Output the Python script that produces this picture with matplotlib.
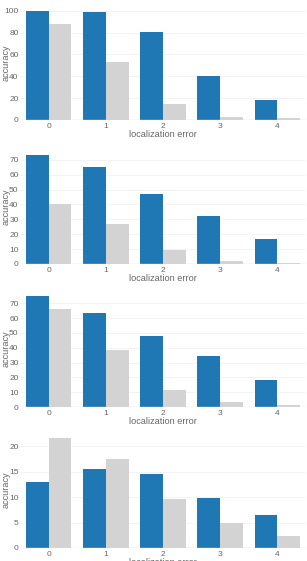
import matplotlib
matplotlib.use("Agg")
import matplotlib.pyplot as plt
import numpy as np

plt.rcParams['font.family'] = ['Liberation Sans', 'DejaVu Sans']

categories = [0, 1, 2, 3, 4]
xlabel = "localization error"
ylabel = "accuracy"

p1_blue = [100, 99, 81, 40, 18]
p1_gray = [87.5, 53.5, 14.5, 2.7, 1.8]
p1_ticks = [0, 20, 40, 60, 80, 100]

p2_blue = [73.4, 65.5, 47.2, 32.4, 16.5]
p2_gray = [40, 26.8, 9.4, 1.8, 0.7]
p2_ticks = [0, 10, 20, 30, 40, 50, 60, 70]

p3_blue = [75, 63.7, 47.6, 34.1, 18.5]
p3_gray = [66.2, 38.2, 11.5, 3.4, 1.6]
p3_ticks = [0, 10, 20, 30, 40, 50, 60, 70]

p4_blue = [13.0, 15.5, 14.6, 9.9, 6.4]
p4_gray = [21.7, 17.6, 9.6, 4.9, 2.4]
p4_ticks = [0, 5, 10, 15, 20]

panels = [(p1_blue, p1_gray, p1_ticks),
          (p2_blue, p2_gray, p2_ticks),
          (p3_blue, p3_gray, p3_ticks),
          (p4_blue, p4_gray, p4_ticks)]

W, H = 307, 561
fig = plt.figure(figsize=(W / 100, H / 100), dpi=100)
fig.patch.set_facecolor('white')

# pixel bounds of plot areas (top, bottom)
bounds = [(5, 120), (149, 264), (290, 407), (432, 548)]
left_px, right_px = 20, 306

BLUE = '#1f77b4'
GRAY = '#d3d3d3'
TXT = '#666666'

x = np.arange(len(categories))
for (blue, gray, ticks), (top, bot) in zip(panels, bounds):
    ax = fig.add_axes([left_px / W, 1 - bot / H, (right_px - left_px) / W, (bot - top) / H])
    ax.bar(x - 0.2, blue, width=0.4, color=BLUE, linewidth=0, zorder=3)
    ax.bar(x + 0.2, gray, width=0.4, color=GRAY, linewidth=0, zorder=3)
    ymax = max(max(blue), max(gray)) * 1.0526
    ax.set_xlim(-0.5, 4.5)
    ax.set_ylim(0, ymax)
    ax.set_xticks(x)
    ax.set_xticklabels([str(c) for c in categories])
    ax.set_yticks(ticks)
    ax.tick_params(axis='both', length=0, labelsize=6, colors=TXT)
    ax.tick_params(axis='y', pad=1)
    ax.tick_params(axis='x', pad=2)
    for s in ax.spines.values():
        s.set_visible(False)
    ax.grid(axis='y', color='#f3f3f3', linewidth=0.7, zorder=0)
    ax.axhline(0, color='#d8d8d8', linewidth=1.0, zorder=4)
    ax.set_xlabel(xlabel, fontsize=6.6, color=TXT, labelpad=0.5)
    ax.set_ylabel(ylabel, fontsize=6.6, color=TXT, labelpad=1)
    ax.yaxis.set_label_coords(-0.033, 0.5)

fig.savefig('out.png', dpi=100, facecolor='white')
